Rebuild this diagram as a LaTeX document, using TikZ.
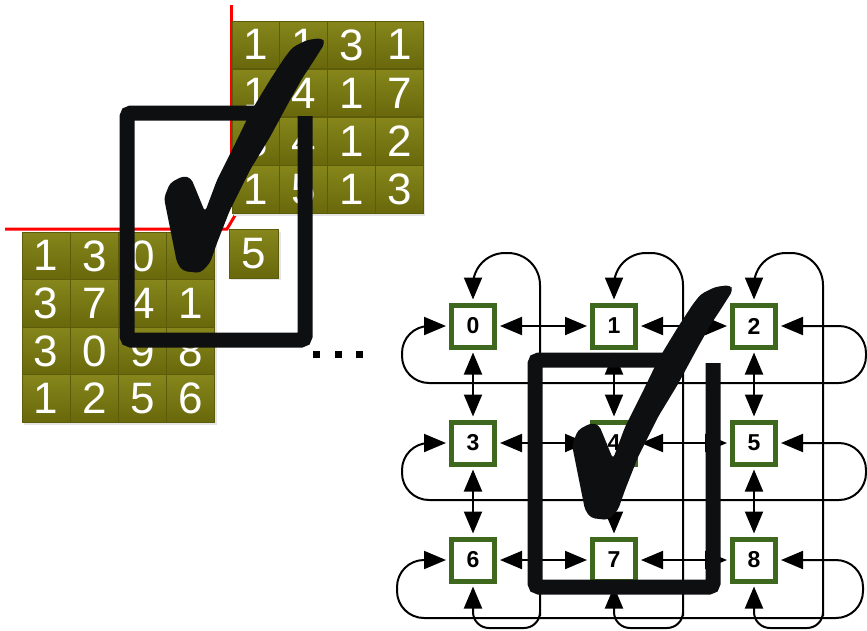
\documentclass[tikz,border=0pt]{standalone}
\usepackage{fontspec}
\setmainfont{Liberation Sans}
\usetikzlibrary{arrows.meta}
\definecolor{oliveT}{RGB}{134,134,28}
\definecolor{oliveB}{RGB}{104,104,12}
\definecolor{oliveL}{RGB}{92,92,10}
\definecolor{nodegreen}{RGB}{62,104,30}
\definecolor{inkblack}{RGB}{14,15,17}
\tikzset{
  cell/.style={draw=oliveL, line width=0.8pt, top color=oliveT, bottom color=oliveB,
    minimum width=48pt, minimum height=47.5pt, inner sep=0pt, text=white,
    font=\fontsize{44}{44}\selectfont, anchor=north west},
  gnode/.style={draw=nodegreen, line width=5pt, fill=white, minimum width=43pt,
    minimum height=42pt, inner sep=0pt, font=\fontsize{23}{23}\selectfont\bfseries},
  link/.style={line width=2pt, {Triangle[length=22pt,width=18pt]}-{Triangle[length=22pt,width=18pt]},
    shorten >=3pt, shorten <=3pt},
  redline/.style={red, line width=3pt},
  checkicon/.pic={
    \draw[inkblack, line width=15pt, rounded corners=4pt] (260,113) -- (127,113) -- (127,340) -- (305,340) -- (305,116);
    \fill[inkblack, rounded corners=4pt] (205,212) -- (217,180) -- (237,140) -- (250,113) -- (270,80)
      -- (285,57) -- (293,47) -- (307,40) -- (322,38) -- (325,43) -- (313,62) -- (303,77)
      -- (290,100) -- (270,137) -- (250,170) -- (230,210) -- (217,243) -- (210,263)
      -- (200,273) -- (183,271) -- (177,263) -- (164,198) -- (170,183) -- (183,176)
      -- (191,178) -- (196,190) -- cycle;
  }
}
\begin{document}
\begin{tikzpicture}[x=1pt,y=-1pt]
\fill[white] (0,0) rectangle (867,630);
\useasboundingbox (0,0) rectangle (867,630);
% red lines
\draw[redline] (5,229) -- (227,229) -- (240,207);
\draw[redline] (231,5) -- (231,207);
% shadows
\fill[black!10] (23.5,234) rectangle (216.5,424.5);
\fill[black!10] (233.5,23) rectangle (425,215.5);
\fill[black!10] (231,231.5) rectangle (280.5,280);
% top-right grid
\foreach \row [count=\r from 0] in {{1,1,3,1},{1,4,1,7},{3,4,1,2},{1,5,1,3}} {
  \foreach \d [count=\c from 0] in \row {
    \node[cell] (T\r\c) at ({231.7+47.75*\c},{20.7+48.15*\r}) {\d};
  }
}
% left grid
\foreach \row [count=\r from 0] in {{1,3,0,{}},{3,7,4,1},{3,0,9,8},{1,2,5,6}} {
  \foreach \d [count=\c from 0] in \row {
    \node[cell] (L\r\c) at ({21.7+48.15*\c},{231.7+47.5*\r}) {\d};
  }
}
\node[cell, minimum width=49pt, minimum height=48.4pt] (five) at (229.3,229.3) {5};
% first check
\pic at (0,0) {checkicon};
% dots
\foreach \x in {313,335,356} { \fill (\x,351) rectangle ++(7,7); }
% graph nodes
\foreach \n/\x/\y in {0/473/326,1/614/326,2/754/326,3/473/443,4/614/443,5/754/443,6/473/560,7/614/560,8/754/560} {
  \node[gnode] (n\n) at (\x,\y) {\n};
}
% neighbour links
\draw[link] (n0) -- (n1); \draw[link] (n1) -- (n2);
\draw[link] (n3) -- (n4); \draw[link] (n4) -- (n5);
\draw[link] (n6) -- (n7); \draw[link] (n7) -- (n8);
\draw[link] (n0) -- (n3); \draw[link] (n3) -- (n6);
\draw[link] (n1) -- (n4); \draw[link] (n4) -- (n7);
\draw[link] (n2) -- (n5); \draw[link] (n5) -- (n8);
% row wraps
\draw[link, rounded corners=27pt] (n0.west) -- (402,326) -- (402,383) -- (866,383) -- (866,326) -- (n2.east);
\draw[link, rounded corners=27pt] (n3.west) -- (402,443) -- (402,500) -- (866,500) -- (866,443) -- (n5.east);
\draw[link, rounded corners=27pt] (n6.west) -- (397,560) -- (397,618) -- (863,618) -- (863,560) -- (n8.east);
% column wraps
\draw[link] (n6.south) [rounded corners=16pt] -- (473,628) -- (540,628) -- (540,600) [rounded corners=32pt] -- (540,253) -- (473,253) -- (n0.north);
\draw[link] (n7.south) [rounded corners=16pt] -- (614,628) -- (683,628) -- (683,600) [rounded corners=32pt] -- (683,253) -- (614,253) -- (n1.north);
\draw[link] (n8.south) [rounded corners=16pt] -- (754,628) -- (823,628) -- (823,600) [rounded corners=32pt] -- (823,253) -- (754,253) -- (n2.north);
% second check
\pic at (408,247) {checkicon};
\end{tikzpicture}
\end{document}
